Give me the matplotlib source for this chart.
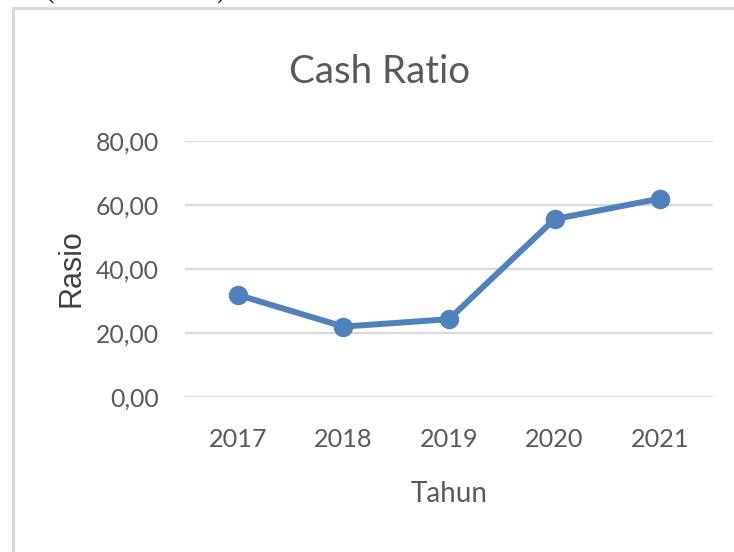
import matplotlib.pyplot as plt
from matplotlib.patches import Rectangle

# data
tahun = ["2017", "2018", "2019", "2020", "2021"]
cash_ratio = [31.9, 22.0, 24.3, 55.6, 62.0]
y_ticks = [0, 20, 40, 60, 80]
y_labels = ["0,00", "20,00", "40,00", "60,00", "80,00"]

W, H = 734, 552
narrow = ["Lato", "DejaVu Sans"]
grey = "#595959"

fig = plt.figure(figsize=(W / 100, H / 100), dpi=100)
ax = fig.add_axes([185 / W, 1 - 397 / H, (713 - 185) / W, (397 - 141) / H])

ax.plot(range(len(tahun)), cash_ratio, color="#4F81BD", lw=4.3,
        marker="o", markersize=13, solid_capstyle="round", zorder=3)

ax.set_xlim(-0.5, len(tahun) - 0.5)
ax.set_ylim(0, 80)
ax.set_xticks(range(len(tahun)))
ax.set_xticklabels(tahun, family=narrow, fontsize=18.2, color=grey)
ax.set_yticks(y_ticks)
ax.set_yticklabels(y_labels, family=narrow, fontsize=17.8, color=grey)
ax.tick_params(axis="both", length=0)
ax.tick_params(axis="y", pad=19)
ax.tick_params(axis="x", pad=22)
ax.grid(axis="y", color="#D9D9D9", lw=1.6)
ax.set_axisbelow(True)
for s in ax.spines.values():
    s.set_visible(False)

# titles and axis names
fig.text(380 / W, 1 - 83 / H, "Cash Ratio", family=narrow, fontsize=27.7,
         color=grey, ha="center", va="baseline")
fig.text(449 / W, 1 - 502 / H, "Tahun", family=narrow, fontsize=20,
         color=grey, ha="center", va="baseline")
fig.text(71 / W, 1 - 268 / H, "Rasio", family="Liberation Sans", fontsize=22,
         color="#404040", rotation=90, ha="center", va="center")

# chart border and cut-off caption above
fig.patches.append(Rectangle((12.5 / W, -0.1), 1.2, 1 - 7.5 / H + 0.1,
                             transform=fig.transFigure, fill=False,
                             edgecolor="#D9D9D9", lw=2.2))
fig.text(50 / W, 1 + 1 / H, "(", family="Liberation Serif", fontsize=18,
         color="black", ha="center", va="baseline")
fig.text(220 / W, 1 + 1 / H, ")", family="Liberation Serif", fontsize=18,
         color="black", ha="center", va="baseline")

plt.savefig("out.png", dpi=100)
